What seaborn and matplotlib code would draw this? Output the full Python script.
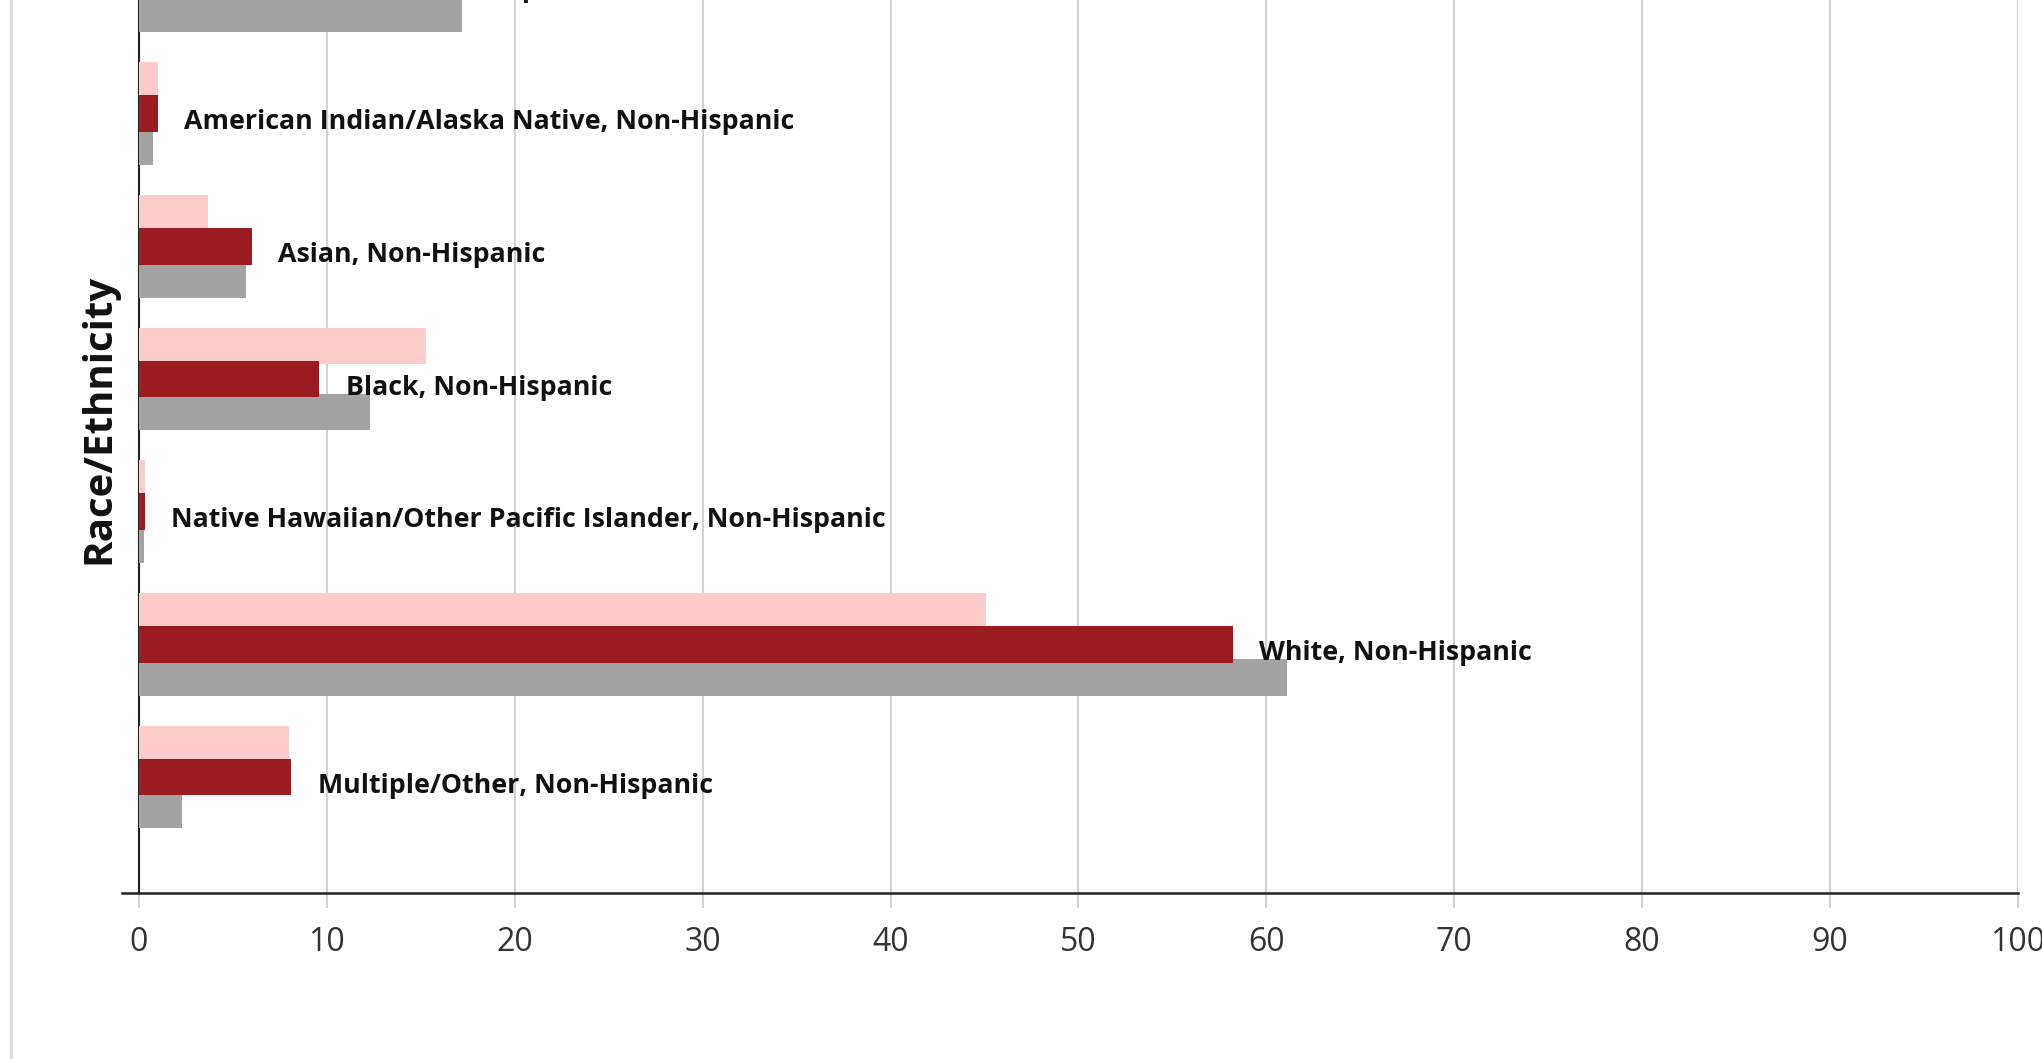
import matplotlib.pyplot as plt
import pandas as pd
import seaborn as sns
from matplotlib.lines import Line2D

categories = [
    "Hispanic",
    "American Indian/Alaska Native, Non-Hispanic",
    "Asian, Non-Hispanic",
    "Black, Non-Hispanic",
    "Native Hawaiian/Other Pacific Islander, Non-Hispanic",
    "White, Non-Hispanic",
    "Multiple/Other, Non-Hispanic",
]
series_names = ["Group A", "Group B", "Group C"]
pink_values = [26.6, 1.0, 3.7, 15.3, 0.3, 45.1, 8.0]
red_values = [16.8, 1.0, 6.0, 9.6, 0.3, 58.2, 8.1]
gray_values = [17.2, 0.75, 5.7, 12.3, 0.25, 61.1, 2.3]
x_ticks = list(range(0, 101, 10))

colors = {"Group A": "#ffcccc", "Group B": "#9b1c20", "Group C": "#a3a3a3"}

rows = []
for name, values in zip(series_names, [pink_values, red_values, gray_values]):
    for cat, val in zip(categories, values):
        rows.append((cat, name, val))
df = pd.DataFrame(rows, columns=["Race/Ethnicity", "Series", "Percent"])

sns.set_theme(style="white")
plt.rcParams["font.family"] = ["Open Sans", "DejaVu Sans"]

W, H = 2042, 1059
fig = plt.figure(figsize=(W / 100, H / 100), dpi=100)
# axes runs past the top edge: the reference is a cropped view
ax = fig.add_axes([122 / W, 1 - 893 / H, 1896 / W, 1028 / H])

sns.barplot(
    data=df, x="Percent", y="Race/Ethnicity", hue="Series",
    order=categories, hue_order=series_names, palette=colors,
    orient="h", width=0.75, dodge=True, saturation=1, legend=False,
    linewidth=0, errorbar=None, ax=ax,
)

# bars overlap slightly, middle series drawn on top
for idx, container in enumerate(ax.containers):
    for bar in container:
        center = bar.get_y() + bar.get_height() / 2
        bar.set_height(0.275)
        bar.set_y(center - 0.1375)
        bar.set_zorder(4 if idx == 1 else 3)

for i, cat in enumerate(categories):
    ax.annotate(
        cat, xy=(red_values[i], i), xytext=(19, -11.2), textcoords="offset points",
        ha="left", va="baseline", fontsize=19.25, fontweight="bold", color="#111111",
        zorder=5,
    )

ax.set_xlim(-0.9, 100)
ax.set_ylim(6.874, -0.874)
ax.set_xticks(x_ticks)
ax.set_xticklabels([str(t) for t in x_ticks])
ax.set_yticks([])
ax.set_xlabel("")
ax.set_ylabel("Race/Ethnicity", fontsize=29, fontweight="bold", color="#111111")
ax.yaxis.set_label_coords(-0.002, 0.461)

ax.grid(axis="x", color="#d3d3d3", linewidth=1.5)
ax.set_axisbelow(True)
ax.tick_params(axis="x", bottom=True, length=10.8, width=1.5, color="#d3d3d3",
               labelsize=23, labelcolor="#333333", pad=13)

for side in ["top", "right", "left"]:
    ax.spines[side].set_visible(False)
ax.spines["bottom"].set_color("#222222")
ax.spines["bottom"].set_linewidth(1.8)
ax.axvline(0, color="#222222", linewidth=1.5, zorder=2)

fig.add_artist(Line2D([10.5 / W, 10.5 / W], [0, 1], transform=fig.transFigure,
                      color="#dddddd", linewidth=2.2))

fig.savefig("out.png", dpi=100)
